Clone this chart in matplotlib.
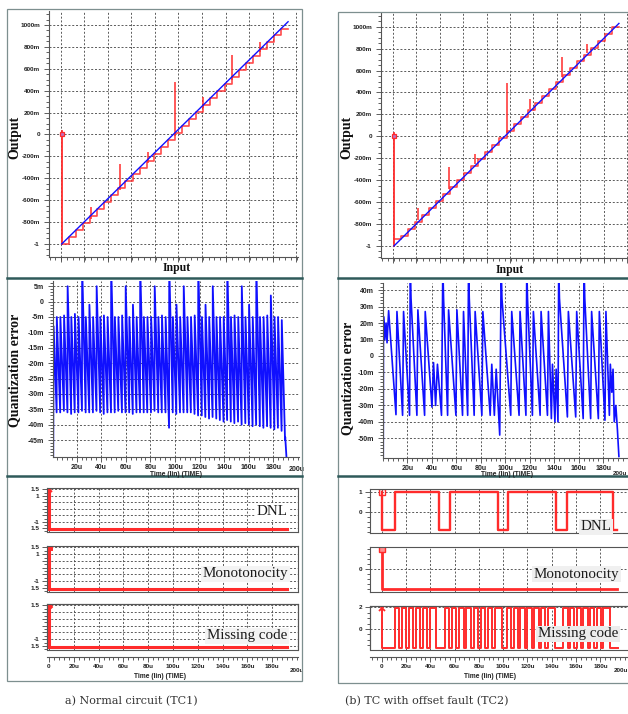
import numpy as np
import matplotlib.pyplot as plt
from matplotlib.patches import Rectangle
from matplotlib.ticker import MultipleLocator, FixedLocator, NullFormatter

plt.rcParams['font.family'] = 'Liberation Sans'
plt.rcParams['font.weight'] = 'bold'

# ---------------- transfer curves (Output vs Input) ----------------
stair_in = [-1.000, -0.937, -0.873, -0.810, -0.746, -0.683, -0.619, -0.556,
            -0.492, -0.429, -0.365, -0.302, -0.238, -0.175, -0.111, -0.048,
            0.016, 0.079, 0.143, 0.206, 0.270, 0.333, 0.397, 0.460,
            0.524, 0.587, 0.651, 0.714, 0.778, 0.841, 0.905, 0.968]
stair_end = 1.03
tc1_out = [-1.000, -0.937, -0.873, -0.810, -0.746, -0.683, -0.619, -0.556,
           -0.492, -0.429, -0.365, -0.302, -0.238, -0.175, -0.111, -0.048,
           0.016, 0.079, 0.143, 0.206, 0.270, 0.333, 0.397, 0.460,
           0.524, 0.587, 0.651, 0.714, 0.778, 0.841, 0.905, 0.968]
tc2_out = [-0.940, -0.905, -0.841, -0.778, -0.714, -0.651, -0.587, -0.524,
           -0.460, -0.397, -0.333, -0.270, -0.206, -0.143, -0.079, -0.016,
           0.048, 0.111, 0.175, 0.238, 0.302, 0.365, 0.429, 0.492,
           0.556, 0.619, 0.683, 0.746, 0.810, 0.873, 0.937, 1.000]
ideal_in = [-1.0, 1.03]
ideal_out = [-1.0, 1.03]

tc1_spike_in = [-0.74, -0.48, -0.23, 0.02, 0.27, 0.53, 0.78]
tc1_spike_base = [-0.77, -0.51, -0.26, -0.01, 0.24, 0.50, 0.75]
tc1_spike_top = [-0.66, -0.27, -0.157, 0.48, 0.345, 0.726, 0.845]
tc2_spike_in = [-0.78, -0.50, -0.27, 0.02, 0.23, 0.52, 0.74]
tc2_spike_base = [-0.76, -0.48, -0.25, 0.03, 0.25, 0.54, 0.76]
tc2_spike_top = [-0.655, -0.276, -0.16, 0.484, 0.341, 0.727, 0.84]

out_ticks = [-1.0, -0.8, -0.6, -0.4, -0.2, 0.0, 0.2, 0.4, 0.6, 0.8, 1.0]
out_tick_labels = ['-1', '-800m', '-600m', '-400m', '-200m', '0',
                   '200m', '400m', '600m', '800m', '1000m']

# ---------------- quantization error (mV vs us) ----------------
qe1_t = [1.3, 3.9, 6.8, 9.8, 12.7, 15.7, 18.6, 21.6,
         24.5, 27.5, 30.4, 33.4, 36.3, 39.3, 42.2, 45.2,
         48.1, 51.1, 54.0, 57.0, 59.9, 62.9, 65.8, 68.8,
         71.7, 74.7, 77.6, 80.6, 83.5, 86.5, 89.4, 92.4,
         95.3, 98.3, 101.2, 104.2, 107.1, 110.1, 113.0, 116.0,
         118.9, 121.9, 124.8, 127.8, 130.7, 133.7, 136.6, 139.6,
         142.5, 145.5, 148.4, 151.4, 154.3, 157.3, 160.2, 163.2,
         166.1, 169.1, 172.0, 175.0, 177.9, 180.9, 183.8, 186.8]
qe1_top = [-8, -5, -5, -4.5, 5, -5, -4, -5,
           12, -5, -1, -5, 5, -5, -4.5, -5,
           12, -5, -5, -4.5, 5, -5, -1, -5,
           12, -5, -5, -5, 5, -5, -4.5, -5,
           12, -5, -1, -5, 5, -5, -5, -4.5,
           12, -5, -1, -5, 5, -5, -5, -5,
           12, -5, -4.5, -5, 5, -5, -1, -5,
           12, -5, -5, -4.5, 2, -5, -5, -6]
qe1_bot = [-36, -36, -35.5, -36, -36.5, -36, -36, -35.5,
           -36, -36, -36, -35.5, -36, -36.5, -36, -36,
           -36, -35.5, -36, -36, -36, -36.5, -36, -36,
           -36, -36, -36, -35.5, -36, -36, -36, -41,
           -36, -36.5, -36, -36, -36, -36, -36.5, -37,
           -37, -37.5, -38, -37.5, -38, -38.5, -39, -38.5,
           -39, -39.5, -39, -40, -39.5, -40, -40.5, -40,
           -40.5, -41, -40.5, -41, -41.5, -41, -42, -45]
qe1_head = (1.0, -50.5)
qe1_tail_t = [189.6, 190.6]
qe1_tail_v = [-44, -50.5]

qe2_t = [0.2, 0.4, 1.5, 2.5, 3.3, 4.6, 10.6,
         11.4, 16.0, 16.8, 21.7,
         22.3, 22.9, 27.7, 28.5, 34.0, 34.5, 40.0,
         41.3, 43.0, 44.5, 47.8,
         48.9, 49.5, 52.8, 53.6, 59.6, 60.4, 65.0, 65.8, 69.2,
         69.9, 70.5, 74.5, 75.3, 80.8, 81.6, 87.6,
         88.9, 91.0, 92.5, 95.4,
         96.6, 97.2, 104.4, 105.2, 111.2, 112.0, 116.8,
         117.5, 118.1, 122.1, 122.9, 128.4, 129.2, 134.4, 135.2, 137.6,
         138.5, 140.5, 141.5, 143.0,
         143.6, 144.2, 150.7, 151.5, 157.5, 158.3, 163.6,
         164.3, 164.9, 169.7, 170.5, 176.0, 176.8, 181.4, 182.2, 185.0,
         185.8, 187.0, 188.0, 189.0, 190.3, 191.6, 192.8]
qe2_v = [-61, 24, 10, 20, 8, 27.5, -35.6,
         27, -36, 27, -36,
         55, 35, -36, 28, -36, 27, -31,
         -4, -30, -5, -36,
         55, 35, -36, 28, -36, 28, -36, 27, -36,
         55, 35, -36, 27, -36, 27, -36,
         -5, -36, -8, -48,
         55, 35, -36, 27, -36, 27, -36,
         55, 35, -36, 27, -36, 27, -36, 27, -38,
         -5, -40, -8, -40,
         55, 35, -37, 27, -37, 27, -38,
         55, 35, -38, 27, -38, 27, -39, 27, -36,
         -5, -22, -8, -40, -30, -45, -61]

qe1_ticks = [5, 0, -5, -10, -15, -20, -25, -30, -35, -40, -45]
qe1_labels = ['5m', '0', '-5m', '-10m', '-15m', '-20m', '-25m', '-30m', '-35m', '-40m', '-45m']
qe2_ticks = [40, 30, 20, 10, 0, -10, -20, -30, -40, -50]
qe2_labels = ['40m', '30m', '20m', '10m', '0', '-10m', '-20m', '-30m', '-40m', '-50m']

time_ticks = [20, 40, 60, 80, 100, 120, 140, 160, 180]
time_labels = ['20u', '40u', '60u', '80u', '100u', '120u', '140u', '160u', '180u']

# ---------------- test flags ----------------
tc1_flag_t = [0.0, 0.0, 192.2]
tc1_flag_v = [1.5, -1.55, -1.55]

dnl2_t = [0, 0.5, 11, 47, 56, 96, 104, 143.5, 152.5, 190.5, 193.5]
dnl2_v = [1, -0.9, 1, -0.9, 1, -0.9, 1, -0.9, 1, -0.9, -0.9]
mono2_t = [0, 0.3, 193.5]
mono2_v = [1.0, -1.0, -1.0]
mc2_rise = [11, 16.7, 22.4, 28.1, 33.8, 39.5,
            52.2, 58, 63.9, 69.7, 75.6, 81.4, 87.3, 93.1,
            102.9, 108.6, 114.2, 119.9, 125.6, 131.2, 136.9,
            149.5, 155, 160.5, 166, 171.5, 177, 182.5]
mc2_fall = [14.5, 20.2, 25.9, 31.6, 37.3, 45,
            55.7, 61.5, 67.4, 73.2, 79.1, 84.9, 90.8, 98.8,
            106.4, 112.1, 117.7, 123.4, 129.1, 134.7, 142.6,
            153, 158.5, 164, 169.5, 175, 180.5, 188]
mc2_high, mc2_low = 1.9, -1.75
mc2_end = 194.7

BLUE = '#1010ff'
RED = '#ff2b2b'
GRIDC = '#505050'
FRAME = '#7d8f8f'
SEP = '#2f5a5a'

W, H = 628, 714
fig = plt.figure(figsize=(W / 100, H / 100), dpi=100)
fig.patch.set_facecolor('white')


def px_box(l, t, r, b):
    return [l / W, 1 - b / H, (r - l) / W, (b - t) / H]


def ftext(x, y, s, **kw):
    fig.text(x / W, 1 - y / H, s, ha='center', va='center', **kw)


def ruler(ax, fs):
    ax.tick_params(which='both', direction='out', color='#444444', width=0.6,
                   labelsize=fs, labelcolor='#222222', pad=1.5)
    ax.tick_params(which='major', length=3.5)
    ax.tick_params(which='minor', length=2)
    for s in ax.spines.values():
        s.set_color('#555555')
        s.set_linewidth(0.8)


def dashed_grid(ax, axis='both'):
    ax.grid(True, axis=axis, which='major', color=GRIDC,
            linestyle=(0, (2.2, 2.0)), linewidth=0.65)


# ---------------- top: transfer panels ----------------
def transfer_panel(rect, xlim, ylim, levels, sp_in, sp_base, sp_top):
    ax = fig.add_axes(px_box(*rect))
    ax.set_xlim(*xlim)
    ax.set_ylim(*ylim)
    ax.spines['top'].set_visible(False)
    ax.spines['right'].set_visible(False)
    ax.xaxis.set_major_locator(FixedLocator(np.arange(-1.008, 1.2, 0.211)))
    ax.xaxis.set_major_formatter(NullFormatter())
    ax.xaxis.set_minor_locator(MultipleLocator(0.0528))
    ax.set_yticks(out_ticks, out_tick_labels)
    ax.yaxis.set_minor_locator(MultipleLocator(0.05))
    ruler(ax, 4.6)
    ax.tick_params(axis='y', pad=3)
    dashed_grid(ax)
    ax.step(stair_in + [stair_end], levels + [levels[-1]], where='post',
            color=RED, lw=1.2, alpha=0.85)
    ax.vlines(sp_in, sp_base, sp_top, color=RED, lw=1.1)
    ax.plot([-1.0, -1.0], [0.03, -1.0], color=RED, lw=1.3)
    ax.plot([-1.0], [0.0], marker='s', ms=3.5, mfc='#c070c0', mec=RED, mew=0.9)
    ax.plot(ideal_in, ideal_out, color=BLUE, lw=1.0)
    return ax


transfer_panel((49, 11, 298, 257), (-1.114, 1.119), (-1.119, 1.128),
               tc1_out, tc1_spike_in, tc1_spike_base, tc1_spike_top)
transfer_panel((381, 13, 632, 257.7), (-1.117, 1.148), (-1.107, 1.125),
               tc2_out, tc2_spike_in, tc2_spike_base, tc2_spike_top)


# ---------------- middle: quantization error ----------------
def error_panel(rect, xlim, ylim, yticks, ylabels, yminor, t, v, lw, lab200):
    ax = fig.add_axes(px_box(*rect))
    ax.set_xlim(*xlim)
    ax.set_ylim(*ylim)
    ax.spines['top'].set_visible(False)
    ax.spines['right'].set_visible(False)
    ax.set_xticks(time_ticks, time_labels)
    ax.xaxis.set_minor_locator(MultipleLocator(4))
    ax.set_yticks(yticks, ylabels)
    ax.yaxis.set_minor_locator(MultipleLocator(yminor))
    ruler(ax, 5.0)
    ax.tick_params(axis='y', pad=3)
    dashed_grid(ax)
    ax.plot(t, v, color=BLUE, lw=lw)
    lx, dy, fs = lab200
    ax.annotate('200u', xy=(lx, 0), xycoords=('data', 'axes fraction'),
                xytext=(0, dy), textcoords='offset points',
                ha='center', va='center', fontsize=fs, color='#222222')
    return ax


t1, v1 = [qe1_head[0]], [qe1_head[1]]
for i, (tt, hi, lo) in enumerate(zip(qe1_t, qe1_top, qe1_bot)):
    t_next = qe1_t[i + 1] if i + 1 < len(qe1_t) else qe1_tail_t[0]
    t1 += [tt, t_next - 0.15]
    v1 += [hi, lo]
t1 += qe1_tail_t
v1 += qe1_tail_v

error_panel((53, 281, 299, 457), (0.8, 200.8), (-50.5, 6.7),
            qe1_ticks, qe1_labels, 1, t1, v1, 1.3, (199, -9, 5.0))
error_panel((383, 283, 632, 458), (0.0, 203.5), (-61.9, 44.3),
            qe2_ticks, qe2_labels, 2, qe2_t, qe2_v, 1.2, (194, -11, 4.5))


# ---------------- bottom: test flags ----------------
def flag_panel(rect, xlim, ylim, yticks, ylabels, yminor, bottom_axis, lab200_x=200):
    ax = fig.add_axes(px_box(*rect))
    ax.set_xlim(*xlim)
    ax.set_ylim(*ylim)
    ax.set_xticks([0] + time_ticks, ['0'] + time_labels)
    ax.xaxis.set_minor_locator(MultipleLocator(4))
    ax.set_yticks(yticks, ylabels)
    ax.yaxis.set_minor_locator(MultipleLocator(yminor))
    ruler(ax, 4.6)
    ax.tick_params(axis='y', pad=2)
    dashed_grid(ax)
    if bottom_axis:
        ax.spines['bottom'].set_position(('outward', 5))
        ax.add_patch(Rectangle((0, 0), 1, 1, transform=ax.transAxes, fill=False,
                               ec='#555555', lw=0.8, clip_on=False))
        ax.annotate('200u', xy=(lab200_x, 0), xycoords=('data', 'axes fraction'),
                    xytext=(0, -15), textcoords='offset points',
                    ha='center', va='center', fontsize=4.6, color='#222222')
    else:
        ax.tick_params(axis='x', which='both', bottom=False, labelbottom=False)
    return ax


left_rows = [(488, 532, 'x', ['1.5', '1', '', '', '', '-1', '1.5']),
             (546, 592, 's', ['1.5', '1', '', '', '', '-1', '1.5']),
             (604, 650, 'X', ['1.5', '', '', '', '', '-1', '1.5'])]
for k, (top, bot, mk, labs) in enumerate(left_rows):
    ax = flag_panel((47, top, 298, bot), (-1.6, 200.8), (-1.79, 1.6),
                    [1.5, 1, 0.5, 0, -0.5, -1, -1.5], labs, 0.25, k == 2)
    ax.plot(tc1_flag_t, tc1_flag_v, color=RED, lw=2.2, solid_joinstyle='miter')
    ax.plot([tc1_flag_t[0]], [tc1_flag_v[0]], marker=mk, ms=4.5, color=RED,
            mec=RED, mew=1.4)

bx = (-9.6, 206.0)
ax = flag_panel((370, 489, 632, 533), bx, (-1.03, 1.17), [1, 0], ['1', '0'], 0.25, False)
ax.step(dnl2_t, dnl2_v, where='post', color=RED, lw=1.7)
ax.plot([0], [1], marker='s', ms=4.5, mfc='none', mec=RED, mew=1.0)

ax = flag_panel((370, 547, 632, 592), bx, (-1.15, 1.1), [0], ['0'], 0.25, False)
ax.step(mono2_t, mono2_v, where='post', color=RED, lw=2.0)
ax.plot([0], [1], marker='s', ms=4.5, mfc='#ff9090', mec=RED, mew=1.0)

mc_t = [0, 0.3]
mc_v = [mc2_high, mc2_low]
for r, f in zip(mc2_rise, mc2_fall):
    mc_t += [r, f]
    mc_v += [mc2_high, mc2_low]
mc_t.append(mc2_end)
mc_v.append(mc2_low)
ax = flag_panel((370, 606, 632, 650), bx, (-1.94, 2.12), [2, 0], ['2', '0'], 0.5, True, 197)
ax.step(mc_t, mc_v, where='post', color=RED, lw=1.4)
ax.plot([0], [mc2_high], marker='x', ms=4.5, color=RED, mew=1.3)

# ---------------- text ----------------
serif_b = dict(family='Liberation Serif', weight='bold', color='#111111')
ftext(15, 137, 'Output', rotation=90, size=10, **serif_b)
ftext(177, 268, 'Input', size=8.5, **serif_b)
ftext(347, 137, 'Output', rotation=90, size=10, **serif_b)
ftext(510, 270, 'Input', size=8.5, **serif_b)
ftext(15, 370, 'Quantization error', rotation=90, size=10, **serif_b)
ftext(348, 378, 'Quantization error', rotation=90, size=10, **serif_b)

small = dict(size=4.8, color='#222222')
ftext(176, 474, 'Time (lin) (TIME)', **small)
ftext(507, 474, 'Time (lin) (TIME)', **small)
ftext(160, 677, 'Time (lin) (TIME)', **small)
ftext(490, 676, 'Time (lin) (TIME)', **small)

lab = dict(family='Liberation Serif', weight='normal', size=10.8, color='#1a1a1a')
ftext(272, 511.7, 'DNL', bbox=dict(boxstyle='square,pad=0.1', fc='white', ec='none'), **lab)
ftext(245.5, 574, 'Monotonocity', bbox=dict(boxstyle='square,pad=0.1', fc='#f4f4f4', ec='none'), **lab)
ftext(247, 635.7, 'Missing code', bbox=dict(boxstyle='square,pad=0.1', fc='#f4f4f4', ec='none'), **lab)
ftext(596, 526.7, 'DNL', bbox=dict(boxstyle='square,pad=0.1', fc='#f0f0f0', ec='none'), **lab)
ftext(576.7, 574.3, 'Monotonocity', bbox=dict(boxstyle='square,pad=0.1', fc='#f0f0f0', ec='none'), **lab)
ftext(578, 634, 'Missing code', bbox=dict(boxstyle='square,pad=0.1', fc='#ececec', ec='none'), **lab)

cap = dict(family='DejaVu Serif', weight='normal', size=8, color='#333333')
ftext(131, 701, 'a) Normal circuit (TC1)', **cap)
ftext(427, 701, '(b) TC with offset fault (TC2)', **cap)

# ---------------- window frames ----------------
for (l, t, r, b) in [(7, 9, 302, 681), (338, 12, 640, 683)]:
    fig.add_artist(Rectangle((l / W, 1 - b / H), (r - l) / W, (b - t) / H,
                             transform=fig.transFigure, fill=False, ec=FRAME, lw=0.9))
for (l, r) in [(7, 302), (338, 640)]:
    for y in (278, 476):
        fig.add_artist(plt.Line2D([l / W, r / W], [1 - y / H, 1 - y / H],
                                  transform=fig.transFigure, color=SEP, lw=1.8))

fig.savefig('out.png', dpi=100)
